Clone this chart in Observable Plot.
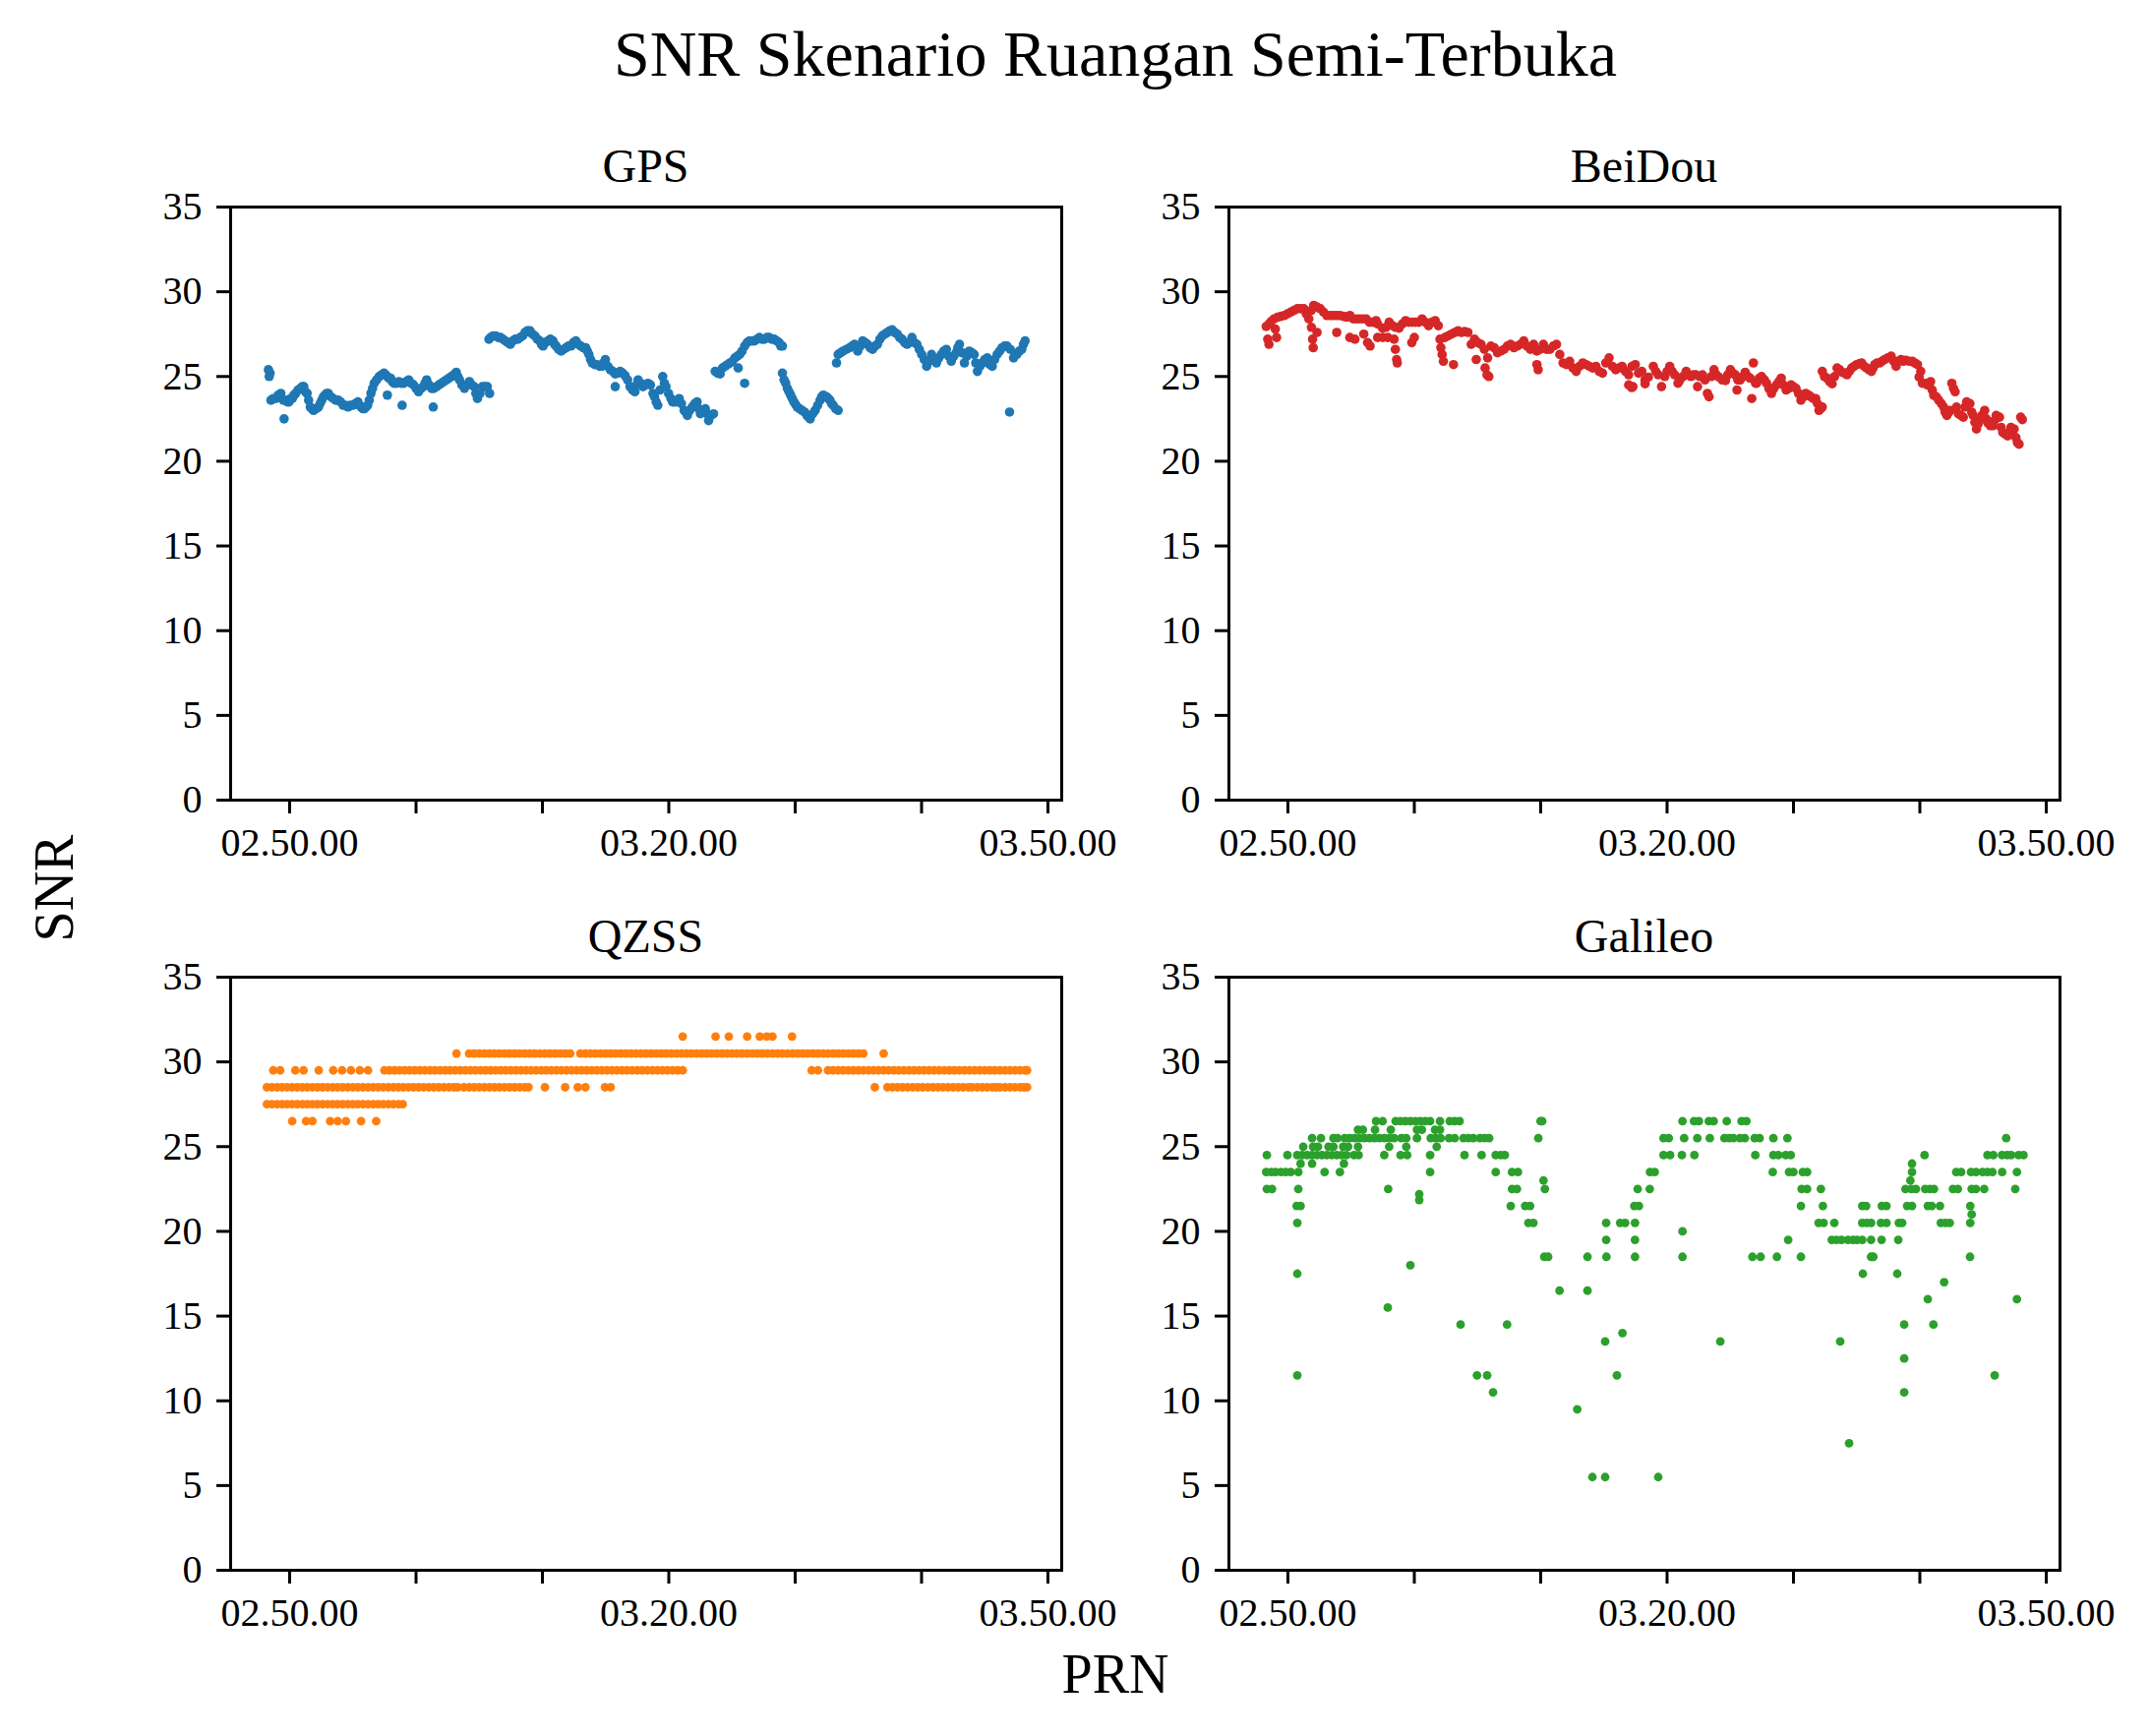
<!DOCTYPE html>
<html>
<head>
<meta charset="utf-8">
<script src="https://cdn.jsdelivr.net/npm/d3@7"></script>
<script src="https://cdn.jsdelivr.net/npm/@observablehq/plot@0.6"></script>
<style>
  html, body { margin: 0; padding: 0; background: white; }
  #fig { position: relative; width: 2186px; height: 1765px; background: white; overflow: hidden;
         font-family: "Liberation Serif", "Times New Roman", serif; color: black; }
  .t { position: absolute; line-height: 1; white-space: nowrap; transform: translateX(-50%); }
  .panel { position: absolute; }
  .panel svg { max-width: none; }
</style>
</head>
<body>
<div id="fig"></div>
<script>
// ---------- axis ticks & labels ----------
// x values are minutes after 02.50.00
const xTickMinutes = [0, 10, 20, 30, 40, 50, 60];
const xTickLabels = ["02.50.00", "", "", "03.20.00", "", "", "03.50.00"];
const yTicks = [0, 5, 10, 15, 20, 25, 30, 35];
const xDomain = [-4.67, 61.09];

const titleMain = "SNR Skenario Ruangan Semi-Terbuka";
const panelTitles = ["GPS", "BeiDou", "QZSS", "Galileo"];
const xLabel = "PRN";
const yLabel = "SNR";

// ---------- GPS : [minute, SNR] ----------
const gps = [
[-1.68,25.4],[-1.62,25.0],[-1.55,25.2],
[-1.48,23.6],[-1.3,23.7],[-1.09,23.7],[-0.9,23.9],[-0.7,24.0],[-0.5,23.6],[-0.44,22.5],[-0.31,23.6],[-0.18,23.5],[-0.05,23.5],[0.08,23.7],[0.21,23.7],[0.34,23.9],[0.47,24.0],[0.66,24.2],[0.86,24.3],[1.0,24.4],[1.12,24.4],[1.25,24.1],[1.38,24.0],[1.5,23.6],[1.63,23.2],[1.76,23.1],[1.89,23.0],[2.09,23.1],[2.28,23.2],[2.41,23.4],[2.54,23.6],[2.67,23.8],[2.8,23.9],[2.93,24.0],[3.06,24.0],[3.26,23.8],[3.45,23.7],[3.65,23.6],[3.84,23.6],[4.03,23.5],[4.23,23.3],[4.42,23.3],[4.62,23.2],[4.81,23.3],[5.0,23.3],[5.2,23.4],[5.4,23.5],[5.53,23.3],[5.66,23.2],[5.79,23.1],[5.91,23.1],[6.04,23.2],[6.17,23.3],[6.3,23.6],[6.43,24.0],[6.56,24.3],[6.69,24.6],[6.88,24.8],[7.08,25.0],[7.27,25.1],[7.47,25.2],[7.6,25.1],[7.73,25.0],[7.73,23.9],[7.86,24.9],[7.99,24.9],[8.12,24.7],[8.25,24.6],[8.44,24.6],[8.64,24.7],[8.84,24.6],[8.9,23.3],[9.03,24.6],[9.22,24.7],[9.42,24.8],[9.61,24.6],[9.81,24.5],[10.0,24.3],[10.2,24.1],[10.4,24.3],[10.58,24.4],[10.71,24.6],[10.84,24.8],[11.04,24.5],[11.23,24.3],[11.36,23.2],[11.4,24.3],[11.62,24.4],[11.81,24.5],[12.01,24.6],[12.2,24.7],[12.4,24.8],[12.6,24.9],[12.79,25.0],[12.98,25.1],[13.18,25.25],[13.31,25.0],[13.44,24.8],[13.63,24.5],[13.83,24.3],[14.02,24.5],[14.22,24.7],[14.41,24.5],[14.6,24.4],[14.73,24.0],[14.86,23.7],[15.06,24.0],[15.25,24.4],[15.45,24.4],[15.64,24.4],[15.82,24.0],
[15.77,27.2],[15.9,27.3],[16.1,27.4],[16.29,27.4],[16.5,27.3],[16.68,27.3],[16.88,27.2],[17.07,27.1],[17.27,27.0],[17.46,26.9],[17.66,27.1],[17.85,27.2],[18.05,27.2],[18.24,27.3],[18.44,27.4],[18.63,27.6],[18.82,27.7],[19.01,27.7],[19.2,27.5],[19.4,27.4],[19.6,27.2],[19.79,27.1],[19.92,26.9],[20.05,26.8],[20.24,27.0],[20.44,27.1],[20.63,27.2],[20.83,27.1],[20.96,26.9],[21.09,26.8],[21.28,26.6],[21.48,26.5],[21.67,26.6],[21.87,26.7],[22.06,26.8],[22.26,26.8],[22.45,27.0],[22.65,27.1],[22.84,26.9],[23.04,26.8],[23.23,26.7],[23.42,26.7],[23.55,26.5],[23.68,26.3],[23.81,26.0],[23.94,25.8],[24.14,25.7],[24.33,25.7],[24.53,25.6],[24.72,25.6],[24.85,25.8],[24.98,26.0],[25.18,25.6],[25.37,25.4],[25.57,25.3],[25.76,25.15],[25.76,24.4],[25.96,25.2],[26.15,25.3],[26.35,25.2],[26.54,25.05],[26.74,24.8],[26.93,24.4],[27.13,24.2],[27.32,24.1],[27.45,24.5],[27.57,24.8],[27.77,24.6],[27.96,24.4],[28.16,24.5],[28.35,24.6],
[28.55,24.5],[28.75,24.0],[28.87,23.8],[29.0,23.5],[29.13,23.3],[29.3,24.2],[29.52,25.0],[29.65,24.6],[29.78,24.4],[29.98,24.0],[30.17,23.7],[30.3,23.5],[30.43,23.5],[30.62,23.5],[30.82,23.7],[31.0,23.4],[31.21,23.0],[31.34,22.9],[31.47,22.7],[31.66,23.0],[31.85,23.2],[32.05,23.4],[32.24,23.5],[32.37,23.1],[32.5,22.8],[32.7,23.0],[32.89,23.1],[33.02,22.8],[33.15,22.4],[33.35,22.7],[33.54,22.8],
[33.67,25.3],[33.86,25.2],[34.06,25.15],[34.25,25.5],[34.45,25.6],[34.65,25.7],[34.84,25.8],[35.04,25.9],[35.23,26.1],[35.42,26.2],[35.49,25.5],[35.61,26.3],[35.8,26.5],[36.0,26.8],[36.0,24.6],[36.2,27.0],[36.39,27.1],[36.59,27.1],[36.78,27.1],[36.98,27.2],[37.17,27.3],[37.37,27.2],[37.56,27.2],[37.76,27.3],[37.95,27.3],[38.15,27.2],[38.34,27.2],[38.54,27.1],[38.73,27.0],[38.86,26.8],[38.99,26.8],
[38.99,25.2],[39.12,24.8],[39.25,24.6],[39.38,24.3],[39.51,24.1],[39.64,23.9],[39.77,23.7],[39.9,23.5],[40.03,23.35],[40.16,23.2],[40.35,23.1],[40.54,23.0],[40.74,22.9],[40.93,22.7],[41.06,22.6],[41.19,22.5],[41.39,22.8],[41.58,23.0],[41.78,23.3],[41.97,23.6],[42.1,23.8],[42.23,23.9],[42.36,23.8],[42.49,23.8],[42.62,23.7],[42.75,23.6],[42.88,23.4],[43.01,23.3],[43.2,23.1],[43.4,23.0],
[43.27,25.8],[43.4,26.3],[43.6,26.4],[43.79,26.5],[44.05,26.6],[44.31,26.7],[44.5,26.8],[44.69,26.9],[44.95,26.5],[45.15,26.8],[45.34,27.1],[45.54,27.0],[45.73,26.9],[45.93,26.7],[46.12,26.6],[46.31,26.8],[46.51,26.9],[46.7,27.2],[46.9,27.4],[47.1,27.5],[47.29,27.6],[47.49,27.7],[47.68,27.75],[47.88,27.6],[48.07,27.5],[48.27,27.3],[48.46,27.2],[48.66,27.0],[48.85,26.9],[49.04,27.0],[49.24,27.3],[49.43,27.0],[49.63,26.9],[49.82,26.6],[50.01,26.3],[50.21,26.0],[50.4,25.6],[50.6,25.9],[50.79,26.3],[50.98,26.0],[51.18,25.8],[51.37,26.1],[51.57,26.3],[51.76,26.5],[51.96,26.6],[52.15,26.2],[52.35,25.9],[52.55,26.2],[52.74,26.4],[52.87,26.7],[53.0,26.9],[53.2,26.4],[53.39,25.8],[53.58,26.2],[53.77,26.5],[53.97,26.4],[54.16,26.3],[54.29,25.8],[54.42,25.3],[54.62,25.6],[54.81,25.8],[55.0,26.0],[55.2,26.1],[55.4,25.7],[55.59,25.6],[55.78,26.0],[55.98,26.3],[56.18,26.5],[56.37,26.7],[56.57,26.8],[56.76,26.8],[56.96,22.9],[57.02,26.6],[57.28,26.1],[57.41,26.3],[57.54,26.3],[57.74,26.5],[57.93,26.6],[58.06,26.9],[58.19,27.1]
];

// ---------- BeiDou : [minute, SNR] ----------
const beidou = [
[-1.72,27.95],[-1.6,27.2],[-1.5,28.1],[-1.5,26.9],[-1.33,28.25],[-1.1,28.4],[-1.0,27.8],[-0.9,27.3],[-0.82,28.5],[-0.56,28.55],[-0.3,28.6],[-0.04,28.7],[0.22,28.8],[0.48,28.9],[0.74,29.0],[1.0,29.0],[1.26,29.0],[1.45,28.7],[1.65,28.4],[1.85,28.9],[1.86,27.9],[1.95,27.2],[2.0,26.7],[2.04,29.2],[2.3,29.1],[2.3,27.6],[2.56,29.0],[2.82,28.8],[3.08,28.6],[3.34,28.6],[3.6,28.6],[3.86,28.6],[3.86,27.6],[4.12,28.6],[4.38,28.55],[4.64,28.5],[4.9,28.6],[4.9,27.3],[5.16,28.4],[5.3,27.2],[5.42,28.4],[5.67,28.4],[5.93,28.4],[6.0,27.5],[6.19,28.4],[6.3,27.0],[6.45,28.2],[6.5,26.8],[6.71,28.2],[6.97,28.3],[7.1,28.1],[7.1,27.3],[7.49,27.85],[7.5,27.3],[7.75,27.9],[7.9,27.3],[8.01,28.2],[8.27,28.0],[8.4,27.2],[8.5,26.6],[8.53,27.9],[8.6,26.0],[8.65,25.8],[8.79,27.85],[9.05,28.1],[9.31,28.3],[9.57,28.2],[9.8,27.0],[9.83,28.2],[10.0,27.3],[10.09,28.2],[10.35,28.2],[10.61,28.4],[10.87,28.2],[11.13,28.0],[11.39,28.2],[11.65,28.3],[11.9,28.0],
[12.03,27.2],[12.1,26.7],[12.2,26.3],[12.3,25.9],[12.42,27.3],[12.68,27.4],[12.94,27.5],[13.1,25.7],[13.2,27.6],[13.46,27.7],[13.72,27.6],[13.98,27.66],[14.24,27.6],[14.5,26.9],[14.76,27.2],[14.9,26.0],[15.02,27.0],[15.28,26.9],[15.54,26.6],[15.6,25.5],[15.75,25.1],[15.8,26.1],[15.9,25.0],[16.06,26.8],[16.32,26.7],[16.58,26.4],[16.84,26.5],[17.1,26.6],[17.36,26.8],[17.62,26.9],[17.88,26.7],[18.14,26.8],[18.4,26.9],[18.66,27.1],[18.92,26.8],[19.18,26.6],[19.44,26.9],[19.69,26.5],[19.7,25.7],[19.8,25.4],[19.95,26.6],[20.21,26.9],[20.47,26.6],[20.73,26.6],[21.0,26.8],[21.25,26.9],[21.51,26.3],[21.77,25.8],[22.03,25.7],[22.29,25.9],[22.55,25.5],[22.81,25.3],[23.07,25.6],[23.33,25.8],[23.59,25.7],[23.85,25.6],[24.11,25.5],[24.37,25.6],[24.63,25.3],[24.89,25.2],[25.15,25.8],[25.41,26.1],[25.67,25.6],[25.93,25.4],[26.19,25.5],[26.44,25.6],[26.7,25.3],[26.96,25.1],[26.96,24.5],[27.2,24.35],[27.22,25.6],[27.3,24.4],[27.48,25.7],[27.74,25.2],[28.0,25.3],[28.26,24.8],[28.26,24.57],[28.52,24.96],
[28.91,25.6],[29.1,25.3],[29.3,25.1],[29.56,24.4],[29.82,25.0],[30.0,25.3],[30.21,25.6],[30.4,25.3],[30.6,25.1],[30.86,24.6],[30.99,24.76],[31.25,25.0],[31.51,25.3],[31.7,25.1],[31.89,25.0],[32.08,25.1],[32.28,25.1],[32.41,24.4],[32.6,25.0],[32.8,25.1],[33.0,24.8],[33.19,24.0],[33.32,23.8],[33.5,25.0],[33.71,25.4],[33.9,25.1],[34.1,24.96],[34.36,24.8],[34.62,24.76],[34.8,25.1],[35.01,25.4],[35.2,25.2],[35.4,25.1],[35.53,24.2],[35.6,24.8],[35.79,24.8],[36.0,25.0],[36.18,25.25],[36.4,25.0],[36.57,24.9],[36.7,23.7],[36.83,25.8],[37.0,24.6],[37.09,24.6],[37.3,24.9],[37.48,25.0],[37.7,24.8],[37.87,24.6],[38.05,24.3],[38.26,24.0],[38.45,24.3],[38.65,24.5],[38.85,24.7],[39.03,24.9],[39.2,24.5],[39.42,24.2],[39.6,24.3],[39.81,24.5],[40.0,24.4],[40.2,24.3],[40.4,24.0],[40.59,23.6],[40.8,23.8],[40.98,24.0],[41.2,23.9],[41.37,23.8],[41.56,23.7],[41.76,23.7],[41.9,23.4],[42.02,23.0],[42.15,23.1],[42.28,23.2],
[42.28,25.3],[42.45,25.0],[42.67,24.9],[42.86,24.7],[43.06,24.57],[43.25,25.0],[43.45,25.5],[43.65,25.4],[43.84,25.25],[44.03,25.2],[44.23,25.1],[44.42,25.3],[44.61,25.5],[44.8,25.6],[45.0,25.7],[45.2,25.75],[45.39,25.8],[45.6,25.6],[45.78,25.5],[45.97,25.4],[46.17,25.3],[46.3,25.5],[46.43,25.7],[46.62,25.8],[46.82,25.8],[47.0,25.9],[47.21,26.0],[47.47,26.1],[47.73,26.2],[47.93,25.9],[48.12,25.6],[48.3,25.9],[48.51,26.0],[48.7,25.9],[48.9,25.95],[49.15,25.9],[49.42,25.9],[49.6,25.8],[49.81,25.7],[49.94,24.96],[50.07,25.3],[50.2,24.6],[50.4,24.6],[50.59,24.5],[50.85,24.7],[50.98,24.2],[51.1,23.9],[51.3,23.8],[51.49,23.6],[51.7,23.4],[51.88,23.2],[52.0,22.9],[52.14,22.7],[52.3,22.9],[52.4,23.0],[52.53,24.6],[52.66,24.3],[52.79,24.1],[52.9,23.2],[53.05,22.8],[53.25,22.7],[53.44,22.6],[53.57,23.2],[53.7,23.5],[53.83,23.4],[53.96,23.4],[54.1,22.9],[54.22,22.7],[54.35,22.3],[54.48,21.9],[54.61,22.2],[54.74,22.4],[54.9,22.7],[55.13,23.0],[55.26,22.5],[55.39,22.25],[55.58,22.1],[55.78,22.1],[55.9,22.4],[56.04,22.7],[56.17,22.6],[56.3,22.6],[56.43,22.0],[56.56,21.7],[56.75,21.6],[56.95,21.5],[57.08,21.7],[57.21,22.0],[57.33,21.9],[57.46,21.9],[57.6,21.4],[57.72,21.1],[57.85,21.0],[57.98,22.6],[58.11,22.45]
];

// ---------- QZSS : minutes at which each SNR level was recorded ----------
const qzssLevels = [26.5, 27.5, 28.5, 29.5, 30.5, 31.5];
const qzss265 = [0.2,1.3,1.8,3.2,3.8,4.45,5.65,6.85];
const qzss275 = [-1.8,-1.4,-1.0,-0.6,-0.2,0.2,0.6,1.0,1.4,1.8,2.2,2.6,3.0,3.4,3.8,4.2,4.6,5.0,5.4,5.8,6.2,6.6,7.0,7.4,7.8,8.2,8.6,8.95];
const qzss285 = [-1.8,-1.4,-1.0,-0.6,-0.2,0.2,0.6,1.0,1.4,1.8,2.2,2.6,3.0,3.4,3.8,4.2,4.6,5.0,5.4,5.8,6.2,6.6,7.0,7.4,7.8,8.2,8.6,9.0,9.4,9.8,10.2,10.6,11.0,11.4,11.8,12.2,12.6,13.0,13.3,
 13.8,14.2,14.6,15.0,15.4,15.8,16.2,16.6,17.0,17.4,17.8,18.2,18.6,18.9,
 20.2,21.8,22.8,23.4,24.95,25.4,46.3,
 47.3,47.7,48.1,48.5,48.9,49.3,49.7,50.1,50.5,50.9,51.3,51.7,52.1,52.5,52.9,53.3,53.7,54.0,54.4,54.8,55.2,55.6,55.9,56.2,56.6,57.0,57.4,57.8,58.1,58.35];
const qzss295 = [-1.3,-0.75,0.45,1.1,2.3,3.45,4.15,4.85,5.55,6.2,
 7.5,7.9,8.3,8.7,9.1,9.5,9.9,10.3,10.7,11.1,11.5,11.9,12.3,12.7,13.1,13.5,13.9,14.3,14.7,15.1,15.5,15.9,16.3,16.7,17.1,17.5,17.9,18.3,18.7,19.1,19.5,19.9,20.3,20.7,21.1,21.5,21.9,22.3,22.7,23.1,23.5,23.9,24.3,24.7,25.1,25.5,25.9,26.3,26.7,27.1,27.5,27.9,28.3,28.7,29.1,29.5,29.9,30.3,30.7,31.1,
 41.3,41.8,
 42.6,43.0,43.4,43.8,44.2,44.6,45.0,45.4,45.8,46.2,46.6,47.0,47.4,47.8,48.2,48.6,49.0,49.4,49.8,50.2,50.6,51.0,51.4,51.8,52.2,52.6,53.0,53.4,53.8,54.2,54.6,55.0,55.4,55.8,56.2,56.6,57.0,57.4,57.8,58.2,58.35];
const qzss305 = [13.2,
 14.2,14.6,15.0,15.4,15.8,16.2,16.6,17.0,17.4,17.8,18.2,18.6,19.0,19.4,19.8,20.2,20.6,21.0,21.4,21.8,22.2,
 23.0,23.4,23.8,24.2,24.6,25.0,25.4,25.8,26.2,26.6,27.0,27.4,27.8,28.2,28.6,29.0,29.4,29.8,30.2,30.6,31.0,31.4,31.8,32.2,32.6,33.0,33.4,33.8,34.2,34.6,35.0,35.4,35.8,36.2,36.6,37.0,37.4,37.8,38.2,38.6,39.0,39.4,39.8,40.2,40.6,41.0,41.4,41.8,42.2,42.6,43.0,43.4,43.8,44.2,44.6,45.0,45.4,
 47.0];
const qzss315 = [31.1,33.7,34.75,36.2,37.2,37.75,38.2,39.75];

// ---------- Galileo : [minute, SNR] ----------
const galileo = [
// 26.5
[6.97,26.5],[7.49,26.5],[8.52,26.5],[8.91,26.5],[9.3,26.5],[9.69,26.5],[10.08,26.5],[10.47,26.5],[10.86,26.5],[11.25,26.5],[12.03,26.5],[12.8,26.5],[13.19,26.5],[13.58,26.5],[19.99,26.5],[20.12,26.5],[31.22,26.5],[32.13,26.5],[32.52,26.5],[33.3,26.5],[33.69,26.5],[34.72,26.5],[35.89,26.5],[36.28,26.5],
// 26.0
[5.54,26],[5.93,26],[6.89,26],[8.14,26],[10.21,26],[10.6,26],[11.64,26],[12.03,26],
// 25.5
[1.91,25.5],[2.61,25.5],[3.6,25.5],[3.93,25.5],[4.5,25.5],[4.89,25.5],[5.28,25.5],[5.67,25.5],[6.06,25.5],[6.45,25.5],[6.84,25.5],[7.23,25.5],[7.62,25.5],[8.01,25.5],[8.4,25.5],[8.97,25.5],[9.36,25.5],[10.21,25.5],[11.3,25.5],[11.69,25.5],[12.08,25.5],[12.75,25.5],[13.19,25.5],[13.89,25.5],[14.28,25.5],[14.67,25.5],[15.19,25.5],[15.58,25.5],[15.92,25.5],[19.81,25.5],[29.72,25.5],[30.13,25.5],[31.35,25.5],[32.39,25.5],[33.38,25.5],[34.54,25.5],[34.91,25.5],[35.24,25.5],[35.76,25.5],[36.15,25.5],[36.93,25.5],[37.32,25.5],[38.41,25.5],[39.52,25.5],[56.83,25.5],
// 25.0
[1.21,25],[1.99,25],[2.38,25],[3.21,25],[3.6,25],[4.37,25],[4.76,25],[5.54,25],[8.01,25],[9.36,25],[11.77,25],
// 24.5
[-1.67,24.5],[-0.04,24.5],[0.74,24.5],[1.13,24.5],[1.52,24.5],[1.91,24.5],[2.3,24.5],[2.69,24.5],[3.08,24.5],[3.47,24.5],[3.86,24.5],[4.24,24.5],[4.63,24.5],[5.23,24.5],[5.59,24.5],[7.62,24.5],[8.91,24.5],[9.43,24.5],[11.25,24.5],[13.97,24.5],[15.32,24.5],[16.44,24.5],[16.83,24.5],[17.16,24.5],[29.72,24.5],[30.24,24.5],[31.17,24.5],[32.16,24.5],[36.98,24.5],[38.41,24.5],[38.8,24.5],[39.39,24.5],[39.78,24.5],[50.37,24.5],[55.35,24.5],[55.81,24.5],[56.51,24.5],[56.9,24.5],[57.22,24.5],[57.81,24.5],[58.2,24.5],
// 24.0
[1.0,24],[1.91,24],[4.43,24],[49.38,24],
// 23.5
[-1.72,23.5],[-1.33,23.5],[-0.99,23.5],[-0.55,23.5],[-0.17,23.5],[0.22,23.5],[0.82,23.5],[2.9,23.5],[4.11,23.5],[11.25,23.5],[16.44,23.5],[17.73,23.5],[18.2,23.5],[28.65,23.5],[29.02,23.5],[38.36,23.5],[39.65,23.5],[39.99,23.5],[40.74,23.5],[41.08,23.5],[49.38,23.5],[52.88,23.5],[53.27,23.5],[54.05,23.5],[54.44,23.5],[54.96,23.5],[55.35,23.5],[55.74,23.5],[56.51,23.5],[57.68,23.5],
// 23.0
[20.22,23],[49.25,23],
// 22.5
[-1.67,22.5],[-1.26,22.5],[0.82,22.5],[7.93,22.5],[17.73,22.5],[18.12,22.5],[20.33,22.5],[27.67,22.5],[28.63,22.5],[40.64,22.5],[41.08,22.5],[42.17,22.5],[48.86,22.5],[49.33,22.5],[49.69,22.5],[50.42,22.5],[50.81,22.5],[51.12,22.5],[52.62,22.5],[53.01,22.5],[54.1,22.5],[54.44,22.5],[55.09,22.5],[57.55,22.5],
// 22.2 / 21.9
[10.39,22.2],[10.39,21.85],
// 21.5
[0.69,21.5],[1.0,21.5],[17.63,21.5],[18.77,21.5],[19.16,21.5],[27.41,21.5],[27.77,21.5],[40.59,21.5],[42.33,21.5],[45.44,21.5],[45.75,21.5],[46.99,21.5],[47.36,21.5],[48.99,21.5],[49.38,21.5],[50.63,21.5],[50.94,21.5],[51.59,21.5],[53.99,21.5],
// 21.0
[54.1,21],
// 20.5
[0.74,20.5],[19.03,20.5],[19.42,20.5],[25.18,20.5],[26.29,20.5],[26.68,20.5],[27.46,20.5],[41.99,20.5],[42.38,20.5],[43.23,20.5],[45.44,20.5],[45.8,20.5],[46.14,20.5],[46.92,20.5],[47.36,20.5],[48.34,20.5],[48.6,20.5],[51.66,20.5],[52.03,20.5],[52.36,20.5],[53.99,20.5],
// 20.0
[31.22,20],
// 19.5
[25.18,19.5],[27.46,19.5],[39.58,19.5],[43.03,19.5],[43.41,19.5],[43.8,19.5],[44.32,19.5],[44.71,19.5],[45.02,19.5],[45.44,19.5],[46.14,19.5],[46.97,19.5],[48.29,19.5],
// 18.5
[20.28,18.5],[20.59,18.5],[23.7,18.5],[25.2,18.5],[27.46,18.5],[31.22,18.5],[36.75,18.5],[37.4,18.5],[38.69,18.5],[40.59,18.5],[46.14,18.5],[46.32,18.5],[53.97,18.5],
// scattered low values
[9.69,18],[0.74,17.5],[45.49,17.5],[48.21,17.5],[51.92,17],[21.49,16.5],[23.7,16.5],[50.63,16],[57.68,16],[7.9,15.5],
[13.66,14.5],[17.34,14.5],[48.76,14.5],[51.07,14.5],[26.47,14],[25.1,13.5],[34.21,13.5],[43.7,13.5],[48.76,12.5],
[0.74,11.5],[14.96,11.5],[15.76,11.5],[26.03,11.5],[55.92,11.5],[16.23,10.5],[48.76,10.5],[22.89,9.5],[44.4,7.5],
[24.09,5.5],[25.1,5.5],[29.3,5.5]
];

// ---------- colours ----------
const colors = { GPS: "#1f77b4", BeiDou: "#d62728", QZSS: "#ff7f0e", Galileo: "#2ca02c" };

// ---------- tables ----------
const toRows = arr => arr.map(([m, v]) => ({ m, snr: v }));
const qzssTimes = [qzss265, qzss275, qzss285, qzss295, qzss305, qzss315];
const qzssRows = qzssTimes.flatMap((ts, i) => ts.map(m => ({ m, snr: qzssLevels[i] })));

const fig = document.getElementById("fig");
const FONT = '"Liberation Serif", "Times New Roman", serif';

function addText(txt, cx, top, size, extra) {
  const d = document.createElement("div");
  d.className = "t";
  d.textContent = txt;
  d.style.left = cx + "px";
  d.style.top = top + "px";
  d.style.fontSize = size + "px";
  if (extra) extra(d);
  fig.appendChild(d);
}

const ML = 110, MR = 15, MT = 15, MB = 80;
const FW = 845, FH = 603;

function panel(rows, color, r, frameLeft, frameTop, title) {
  const svg = Plot.plot({
    width: FW + ML + MR, height: FH + MT + MB,
    marginLeft: ML, marginRight: MR, marginTop: MT, marginBottom: MB,
    style: { fontFamily: FONT, fontSize: "40px", color: "black", background: "white", overflow: "visible" },
    x: { domain: xDomain },
    y: { domain: [0, 35] },
    marks: [
      Plot.dot(rows, { x: "m", y: "snr", r, fill: color, stroke: null }),
      Plot.frame({ stroke: "black", strokeWidth: 3 }),
      Plot.axisX({ ticks: xTickMinutes, tickFormat: d => xTickLabels[xTickMinutes.indexOf(d)],
                   tickSize: 14, tickPadding: 14, strokeWidth: 3, fontSize: 40, label: null }),
      Plot.axisY({ ticks: yTicks, tickSize: 14, tickPadding: 15, strokeWidth: 3, fontSize: 40, label: null })
    ]
  });
  const wrap = document.createElement("div");
  wrap.className = "panel";
  wrap.style.left = (frameLeft - ML) + "px";
  wrap.style.top = (frameTop - MT) + "px";
  wrap.appendChild(svg);
  fig.appendChild(wrap);
  addText(title, frameLeft + FW / 2, frameTop - 25 - 40.2, 48);
}

panel(toRows(gps), colors.GPS, 4.8, 234, 210, panelTitles[0]);
panel(toRows(beidou), colors.BeiDou, 4.8, 1249, 210, panelTitles[1]);
panel(qzssRows, colors.QZSS, 4.4, 234, 993, panelTitles[2]);
panel(toRows(galileo), colors.Galileo, 4.4, 1249, 993, panelTitles[3]);

addText(titleMain, 1134, 22, 66);
addText(xLabel, 1134, 1674, 56);
addText(yLabel, 55, 903, 56, d => {
  d.style.transform = "translate(-50%, -50%) rotate(-90deg)";
});
</script>
</body>
</html>
